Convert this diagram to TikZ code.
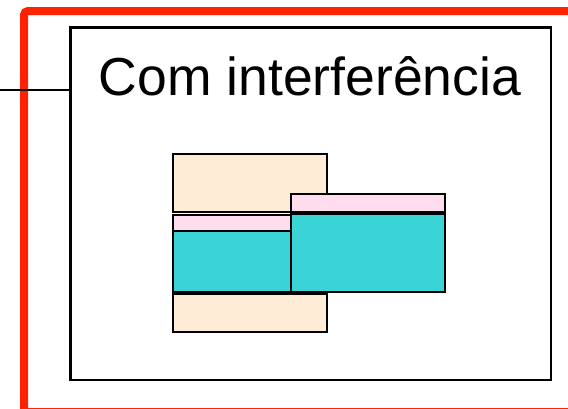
\documentclass[tikz,border=0pt]{standalone}
\usepackage{fontspec}
\setmainfont{Liberation Sans}
\definecolor{frameRed}{RGB}{255,34,0}
\definecolor{beige}{RGB}{255,236,214}
\definecolor{pinkband}{RGB}{255,221,238}
\definecolor{cyanblock}{RGB}{58,212,214}
\begin{document}
\begin{tikzpicture}[x=1pt,y=-1pt,
  blockbox/.style={draw=black,line width=2.2pt,inner sep=0pt,outer sep=0pt},
  bandbox/.style={draw=black,line width=1.2pt,inner sep=0pt,outer sep=0pt}]
  \useasboundingbox (0,0) rectangle (568,408);
  % red outer border, partly beyond the page
  \draw[frameRed,line width=8pt,rounded corners=4pt] (24,411.8) -- (24,11) -- (600,11);
  \draw[frameRed,line width=8pt] (24,411.8) -- (600,411.8);
  % inner frame
  \node[draw=black,line width=2.5pt,inner sep=0pt,minimum width=480.5pt,minimum height=352.5pt,anchor=north west] (frame) at (69,26) {};
  \coordinate (lead) at (0,90);
  \draw[line width=2pt] (lead) -- (lead -| frame.west);
  % title
  \node[anchor=base,inner sep=0pt,font=\fontsize{53.5}{60}\selectfont] (title) at (310,95) {Com interferência};
  % beige blocks
  \node[blockbox,fill=beige,minimum width=154pt,minimum height=58pt,anchor=north west] (topB) at (173,154) {};
  \node[blockbox,fill=beige,minimum width=154pt,minimum height=38pt,anchor=north west] (botB) at (173,294) {};
  % left stack: pink band over cyan
  \node[bandbox,fill=pinkband,minimum width=118pt,minimum height=16pt,anchor=north west] (leftP) at (173,215) {};
  \node[bandbox,fill=cyanblock,minimum width=118pt,minimum height=61pt,anchor=north west] (leftC) at (173,231) {};
  \draw[line width=2.2pt] (leftP.north west) rectangle (leftC.south east);
  % right stack
  \node[blockbox,fill=pinkband,minimum width=154pt,minimum height=18pt,anchor=north west] (rightP) at (291,194) {};
  \node[blockbox,fill=cyanblock,minimum width=154pt,minimum height=78pt,anchor=north west] (rightC) at (291,214) {};
\end{tikzpicture}
\end{document}
